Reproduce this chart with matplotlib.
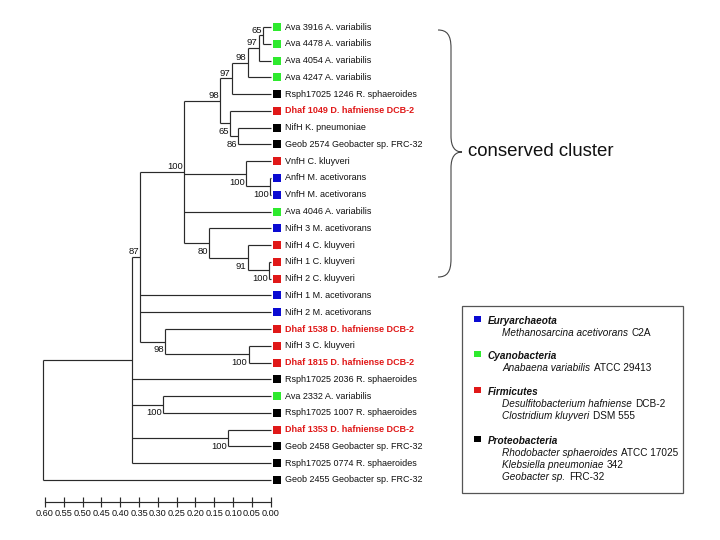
import matplotlib
matplotlib.use('Agg')
import matplotlib.pyplot as plt
from matplotlib.path import Path
from matplotlib.patches import PathPatch, Rectangle

plt.rcParams['font.family'] = ['Liberation Sans', 'DejaVu Sans']

# leaves, top to bottom
leaf_names = ['Ava 3916 A. variabilis', 'Ava 4478 A. variabilis', 'Ava 4054 A. variabilis',
              'Ava 4247 A. variabilis', 'Rsph17025 1246 R. sphaeroides', 'Dhaf 1049 D. hafniense DCB-2',
              'NifH K. pneumoniae', 'Geob 2574 Geobacter sp. FRC-32', 'VnfH C. kluyveri',
              'AnfH M. acetivorans', 'VnfH M. acetivorans', 'Ava 4046 A. variabilis',
              'NifH 3 M. acetivorans', 'NifH 4 C. kluyveri', 'NifH 1 C. kluyveri', 'NifH 2 C. kluyveri',
              'NifH 1 M. acetivorans', 'NifH 2 M. acetivorans', 'Dhaf 1538 D. hafniense DCB-2',
              'NifH 3 C. kluyveri', 'Dhaf 1815 D. hafniense DCB-2', 'Rsph17025 2036 R. sphaeroides',
              'Ava 2332 A. variabilis', 'Rsph17025 1007 R. sphaeroides', 'Dhaf 1353 D. hafniense DCB-2',
              'Geob 2458 Geobacter sp. FRC-32', 'Rsph17025 0774 R. sphaeroides', 'Geob 2455 Geobacter sp. FRC-32']
leaf_groups = ['cyano', 'cyano', 'cyano', 'cyano', 'proteo', 'firm', 'proteo', 'proteo', 'firm',
               'eury', 'eury', 'cyano', 'eury', 'firm', 'firm', 'firm', 'eury', 'eury', 'firm',
               'firm', 'firm', 'proteo', 'cyano', 'proteo', 'firm', 'proteo', 'proteo', 'proteo']
leaf_bold = [n.startswith('Dhaf') for n in leaf_names]

group_colors = {'eury': '#0a0ad2', 'cyano': '#2eea2e', 'firm': '#e01818', 'proteo': '#000000'}

# internal nodes: name, children, distance from tips, bootstrap, label side
node_names = ['a1', 'a2', 'a3', 'a4', 'b1', 'b2', 'c1', 'v1', 'v2', 'n1', 'n2', 'n3', 'c2',
              'd1', 'd2', 'c3', 'e1', 'e2', 'c4', 'root']
node_children = [[0, 1], ['a1', 2], ['a2', 3], ['a3', 4], [6, 7], [5, 'b1'], ['a4', 'b2'],
                 [9, 10], [8, 'v1'], [14, 15], [13, 'n1'], [12, 'n2'], ['c1', 'v2', 11, 'n3'],
                 [19, 20], [18, 'd1'], ['c2', 16, 17, 'd2'], [22, 23], [24, 25],
                 ['c3', 21, 'e1', 'e2', 26], ['c4', 27]]
node_depth = [0.020, 0.032, 0.061, 0.104, 0.086, 0.108, 0.135, 0.002, 0.066, 0.005, 0.061, 0.164,
              0.230, 0.059, 0.281, 0.347, 0.285, 0.114, 0.370, 0.606]
node_support = [65, 97, 98, 97, 86, 65, 98, 100, 100, 100, 91, 80, 100, 100, 98, 87, 100, 100, None, None]
support_side = ['above', 'above', 'above', 'above', 'below', 'below', 'above', 'below', 'below',
                'below', 'below', 'below', 'above', 'below', 'below', 'above', 'below', 'below', None, None]

scale_ticks = [0.60, 0.55, 0.50, 0.45, 0.40, 0.35, 0.30, 0.25, 0.20, 0.15, 0.10, 0.05, 0.00]

legend_heads = ['Euryarchaeota', 'Cyanobacteria', 'Firmicutes', 'Proteobacteria']
legend_keys = ['eury', 'cyano', 'firm', 'proteo']
legend_species = [[('Methanosarcina acetivorans', 'C2A')],
                  [('Anabaena variabilis', 'ATCC 29413')],
                  [('Desulfitobacterium hafniense', 'DCB-2'), ('Clostridium kluyveri', 'DSM 555')],
                  [('Rhodobacter sphaeroides', 'ATCC 17025'), ('Klebsiella pneumoniae', '342'),
                   ('Geobacter sp.', 'FRC-32')]]

# ---- figure
W, H = 720, 540
fig = plt.figure(figsize=(7.2, 5.4), dpi=100)
fig.patch.set_facecolor('white')

# tree axes, mapped so that d=0.6 -> px 45, d=0 -> px 270.7, leaf 0 -> py 27, leaf 27 -> py 480
px_per_d = 225.7 / 0.6
x0_px = 270.7
leaf_step = (480 - 27) / 27.0
ax = fig.add_axes([0, 0, 1, 1])
ax.set_xlim(x0_px / px_per_d, (x0_px - W) / px_per_d)
ax.set_ylim((H - 27) / leaf_step, -27 / leaf_step)
ax.axis('off')

lc = '#2a2a2a'
lw = 0.85

pos = {}
for i in range(len(leaf_names)):
    pos[i] = (0.0, float(i))

for name, kids, d, sup, side in zip(node_names, node_children, node_depth, node_support, support_side):
    ys = [pos[k][1] for k in kids]
    y = (ys[0] + ys[-1]) / 2
    pos[name] = (d, y)
    ax.plot([d, d], [ys[0], ys[-1]], color=lc, lw=lw, solid_capstyle='butt')
    for k in kids:
        ax.plot([d, pos[k][0]], [pos[k][1], pos[k][1]], color=lc, lw=lw, solid_capstyle='butt')
    if sup is not None:
        dx = 1.2 / px_per_d
        if side == 'above':
            ax.text(d + dx, y - 0.3, str(sup), ha='right', va='center', fontsize=6.8, color='#111')
        else:
            ax.text(d + dx, y + 0.5, str(sup), ha='right', va='center', fontsize=6.8, color='#111')

# leaf markers and labels
sq_x = -6.6 / px_per_d
tx_x = -14.3 / px_per_d
for i, (nm, g, b) in enumerate(zip(leaf_names, leaf_groups, leaf_bold)):
    ax.scatter([sq_x], [i], marker='s', s=26, color=group_colors[g], linewidths=0)
    ax.text(tx_x, i, nm, ha='left', va='center', fontsize=6.5,
            color=group_colors['firm'] if b else '#111',
            fontweight='bold' if b else 'normal')

# scale bar
sax = fig.add_axes([45 / W, (H - 502) / H, 225.7 / W, 0.0001])
sax.set_xlim(0.6, 0.0)
sax.set_ylim(0, 1)
for s in ['top', 'left', 'right']:
    sax.spines[s].set_visible(False)
sax.spines['bottom'].set_color(lc)
sax.spines['bottom'].set_linewidth(lw)
sax.set_yticks([])
sax.set_xticks(scale_ticks)
sax.set_xticklabels(['%.2f' % t for t in scale_ticks], fontsize=6.6, color='#111')
sax.tick_params(axis='x', direction='inout', length=7, width=lw, color=lc, pad=1.5)
sax.patch.set_visible(False)

# overlay in pixel coordinates
ov = fig.add_axes([0, 0, 1, 1])
ov.set_xlim(0, W)
ov.set_ylim(H, 0)
ov.axis('off')
ov.patch.set_visible(False)

# curly brace
bx, btop, bmid, bbot, btip = 451, 30, 152, 277, 462
verts = [(438, btop), (447, btop), (bx, btop + 5), (bx, btop + 18),
         (bx, bmid - 16),
         (bx, bmid - 5), (bx + 4, bmid), (btip, bmid),
         (bx + 4, bmid), (bx, bmid + 5), (bx, bmid + 16),
         (bx, bbot - 18),
         (bx, bbot - 5), (447, bbot), (438, bbot)]
codes = [Path.MOVETO, Path.CURVE4, Path.CURVE4, Path.CURVE4,
         Path.LINETO,
         Path.CURVE4, Path.CURVE4, Path.CURVE4,
         Path.CURVE4, Path.CURVE4, Path.CURVE4,
         Path.LINETO,
         Path.CURVE4, Path.CURVE4, Path.CURVE4]
ov.add_patch(PathPatch(Path(verts, codes), facecolor='none', edgecolor='#444', lw=0.8))
ov.text(468, bmid, 'conserved cluster', ha='left', va='center', fontsize=13.4, color='#111')

# legend box
ov.add_patch(Rectangle((462, 306), 221, 187, facecolor='white', edgecolor='#555', lw=0.9))
renderer = fig.canvas.get_renderer()
head_y = [321, 356, 392, 441]
for hy, head, key, spp in zip(head_y, legend_heads, legend_keys, legend_species):
    ov.add_patch(Rectangle((474, hy - 5.5), 6.5, 6.5, facecolor=group_colors[key], edgecolor='none'))
    ov.text(488, hy, head, ha='left', va='center', fontsize=7.2, fontweight='bold',
            fontstyle='italic', color='#111')
    for j, (sp, strain) in enumerate(spp):
        yy = hy + 12.1 * (j + 1)
        t = ov.text(502, yy, sp, ha='left', va='center', fontsize=7.2, fontstyle='italic', color='#111')
        bb = t.get_window_extent(renderer)
        ov.text(502 + bb.width + 3.5, yy, strain, ha='left', va='center', fontsize=7.2, color='#111')

fig.savefig('out.png', dpi=100, facecolor='white')
